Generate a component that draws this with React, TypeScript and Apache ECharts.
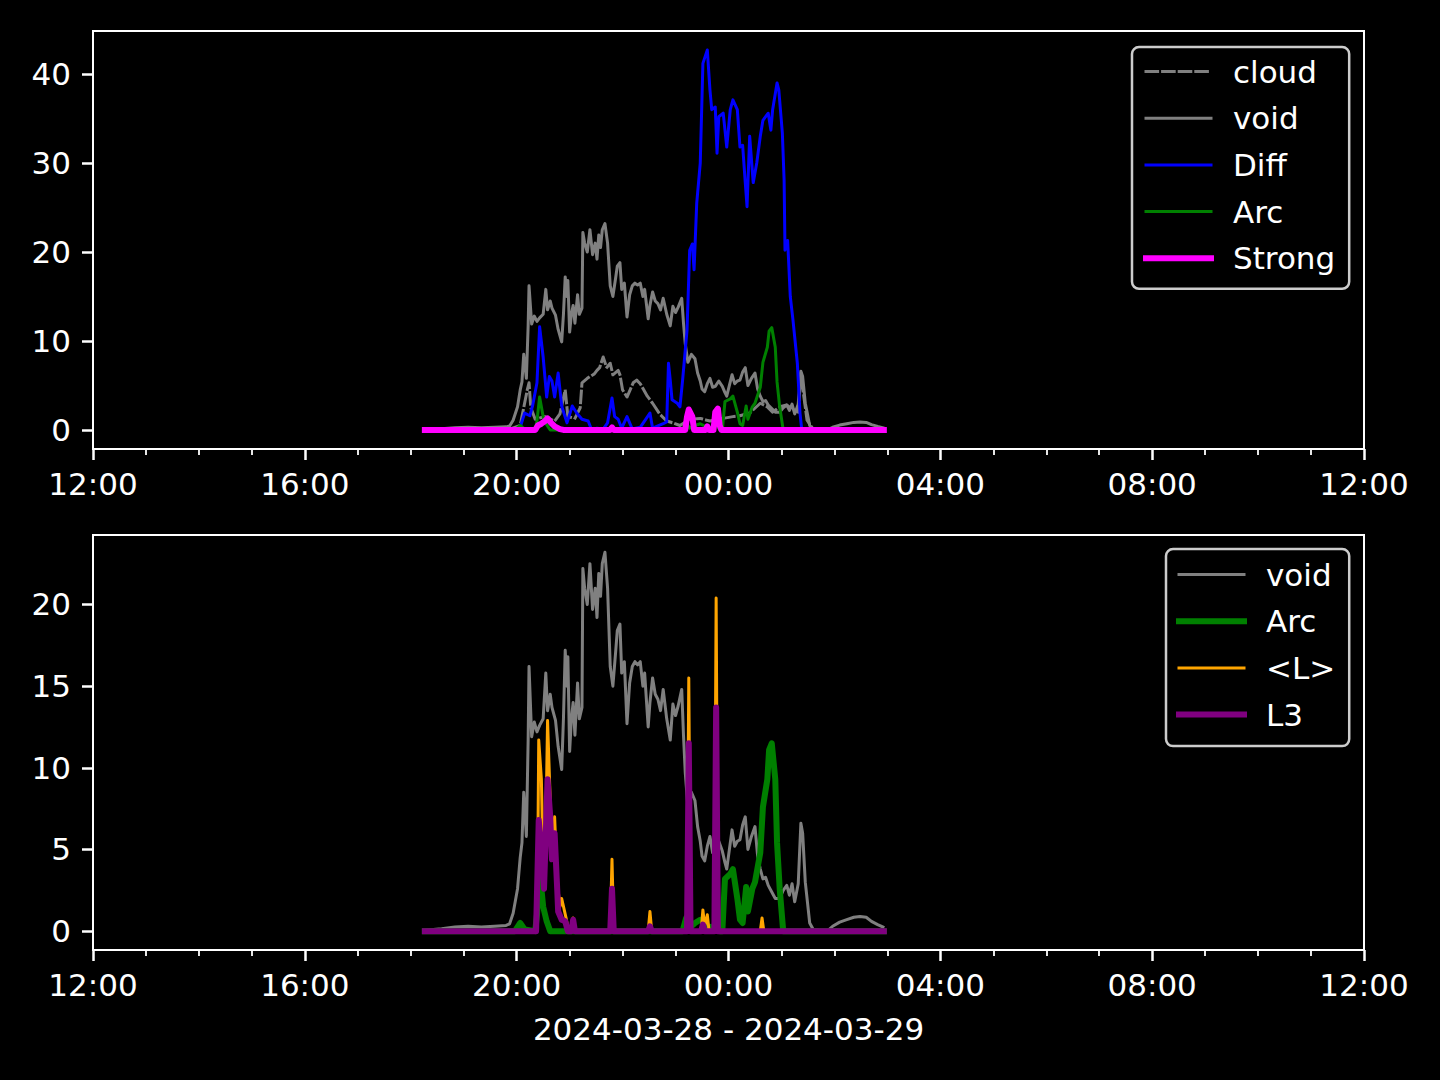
import React, { useEffect, useRef } from 'react';
import * as echarts from 'echarts';

// x values: minutes after 2024-03-28 12:00
const xTicks = [0, 240, 480, 720, 960, 1200, 1440];
const xTickLabels = ['12:00', '16:00', '20:00', '00:00', '04:00', '08:00', '12:00'];
const topYTicks = [0, 10, 20, 30, 40];
const bottomYTicks = [0, 5, 10, 15, 20];
const xLabel = '2024-03-28 - 2024-03-29';
const topLegendNames = ['cloud', 'void', 'Diff', 'Arc', 'Strong'];
const bottomLegendNames = ['void', 'Arc', '<L>', 'L3'];

const cloudData = [
  [376, 0], [472, 0.1], [484, 0.5], [492, 4.5], [494, 5.3], [496, 2.5], [501, 1.2], [512, 1.5],
  [523, 1], [529, 1.8], [535, 4.5], [538, 1.5], [546, 1.3], [552, 2.5], [554, 5.3], [560, 5.8],
  [563, 6], [568, 6.3], [571, 6.7], [574, 7], [578, 8.2], [582, 7], [586, 7.5], [589, 6.2],
  [595, 6.7], [597, 6.2], [600, 4.5], [605, 3.7], [612, 5.3], [616, 5.6], [620, 5.2], [628, 3.8],
  [634, 3], [642, 1.8], [650, 1.0], [657, 0.8], [665, 0.5], [676, 1.2], [688, 1.3], [699, 1.0],
  [714, 1.3], [725, 1.5], [733, 1.6], [744, 1.9], [756, 3], [764, 2.6], [770, 2], [778, 2.6],
  [786, 2.8], [793, 2.3], [799, 2], [802, 6.4], [805, 4], [809, 1.1], [815, 0.2], [824, 0], [896, 0],
];

const voidData = [
  [376, 0.05], [395, 0.15], [410, 0.25], [425, 0.3], [440, 0.25], [455, 0.3], [468, 0.35], [472, 0.45],
  [476, 1.1], [481, 2.6], [484, 4.5], [486, 5.4], [488, 8.5], [491, 5.8], [493, 11.7], [494, 16.2],
  [497, 11.9], [500, 12.8], [503, 12.2], [506, 12.6], [510, 13], [513, 15.8], [515, 13.5], [518, 14.5],
  [520, 13.7], [524, 12.9], [527, 11.3], [531, 9.9], [533, 13], [535, 17.2], [537, 15], [538, 16.8],
  [540, 11], [542, 13], [544, 14], [546, 12], [549, 15.2], [551, 13], [554, 13.7], [555, 22.2],
  [557, 21], [560, 20], [563, 22.5], [566, 19.7], [569, 21], [571, 19.2], [573, 21.9], [575, 20.5],
  [577, 22.5], [580, 23.2], [583, 21], [586, 16.2], [589, 15], [592, 17], [594, 18.4], [597, 18.8],
  [599, 15.8], [602, 16.5], [605, 12.7], [608, 15.2], [611, 16.2], [614, 16.5], [617, 16.3], [620, 16.5],
  [623, 15], [625, 15.8], [629, 12.5], [631, 14], [634, 15.5], [637, 14.5], [640, 14.2], [643, 13.5],
  [646, 14.8], [650, 13], [654, 11.7], [657, 13.9], [660, 13.2], [663, 13.8], [667, 14.8], [669, 12],
  [671, 9.7], [674, 7.6], [678, 8.5], [682, 8], [685, 6.4], [688, 5.5], [690, 4.6], [693, 4.3],
  [696, 5.2], [699, 5.8], [702, 4.8], [705, 4.9], [709, 5.5], [713, 4.9], [716, 4.2], [718, 3.8],
  [721, 5], [724, 6.2], [727, 5.2], [730, 5.5], [733, 5.6], [736, 6.5], [739, 7], [742, 5],
  [746, 5.8], [750, 6.4], [753, 4.6], [756, 3.8], [759, 3.2], [762, 3.3], [765, 2.8], [769, 2.4],
  [773, 2], [778, 2], [782, 2.5], [786, 2.8], [789, 2.2], [792, 2.9], [795, 1.8], [799, 2.9],
  [802, 6.6], [804, 6], [807, 3], [809, 2], [812, 0.5], [816, 0.1], [832, 0], [838, 0.3],
  [846, 0.55], [854, 0.7], [862, 0.85], [869, 0.9], [876, 0.85], [882, 0.6], [889, 0.4], [895, 0.25],
];

const diffData = [
  [376, 0], [481, 0], [484, 0.3], [489, 1.9], [495, 1.6], [498, 2.7], [503, 5.3], [506, 11.6],
  [510, 8.2], [514, 3.7], [517, 6], [520, 5.5], [523, 3.7], [527, 6.4], [531, 2.7], [537, 0.8],
  [543, 2.7], [548, 1.9], [554, 1.2], [561, 1.0], [565, 0], [571, 0.2], [578, 0.1], [583, 0.8],
  [588, 3.6], [591, 1.5], [595, 1.2], [599, 0.2], [605, 1.5], [611, 0.1], [620, 0.3], [631, 1.9],
  [634, 0.2], [646, 0.7], [650, 0.9], [652, 7.5], [654, 5.6], [656, 3.4], [662, 3.0], [665, 2.6],
  [668, 5.6], [673, 11.2], [676, 20.2], [679, 20.9], [681, 18], [684, 25.5], [688, 30], [691, 41.2],
  [696, 42.7], [699, 38.2], [701, 36], [705, 36.3], [707, 31.1], [709, 35.2], [714, 35.6], [718, 31.8],
  [722, 36], [725, 37.1], [730, 36], [733, 31.8], [736, 32], [739, 27.8], [741, 25.1], [744, 33],
  [748, 27.8], [752, 30], [756, 33], [759, 34.8], [765, 35.6], [768, 33.7], [770, 36], [775, 39],
  [777, 38.2], [781, 33.4], [783, 28.1], [784, 20.2], [787, 21.3], [790, 15], [793, 12.4], [798, 7.5],
  [801, 1.9], [803, 0], [896, 0],
];

const arcData = [
  [376, 0], [478, 0], [484, 0.5], [489, 0.1], [501, 0], [503, 1], [506, 3.7], [510, 1.5],
  [514, 0.6], [518, 0], [668, 0], [672, 0.8], [676, 0.2], [682, 0.5], [688, 0.7], [696, 0.3],
  [703, 0.2], [706, 0.7], [710, 0], [713, 0], [716, 3.2], [722, 3.5], [725, 3.8], [730, 2],
  [733, 0.7], [736, 0.5], [740, 2.7], [742, 1.2], [747, 2.6], [750, 3], [756, 4.8], [759, 7.6],
  [764, 9.3], [766, 11.1], [769, 11.5], [773, 9.3], [775, 5.4], [778, 2.6], [782, 0], [896, 0],
];

const strongData = [
  [376, 0], [501, 0], [504, 0.5], [508, 0.7], [512, 1.0], [515, 1.3], [519, 0.8], [523, 0.4],
  [529, 0.1], [533, 0], [586, 0], [588, 0.3], [590, 0], [671, 0], [673, 1.5], [675, 2.3],
  [679, 1.5], [681, 0], [694, 0], [696, 0.4], [698, 0], [703, 0], [705, 2.0], [708, 2.4],
  [710, 0.5], [712, 0], [896, 0],
];

const lMeanData = [
  [376, 0], [502, 0], [504, 5], [505, 11.7], [508, 9.3], [510, 4], [512, 2.6], [515, 12.9],
  [518, 8], [520, 5], [523, 7], [526, 3], [529, 1.5], [531, 2], [536, 0.8], [538, 0.2],
  [542, 0], [544, 0.8], [546, 0], [586, 0], [588, 4.4], [590, 0], [629, 0], [631, 1.2],
  [633, 0], [673, 0], [675, 15.5], [677, 0], [689, 0], [691, 1.3], [693, 0.3], [696, 1.0],
  [698, 0], [704, 0], [706, 20.4], [708, 0], [756, 0], [758, 0.8], [760, 0], [896, 0],
];

const l3Data = [
  [376, 0], [502, 0], [505, 6.8], [508, 5], [509, 4.4], [511, 2.6], [515, 9.3], [518, 7],
  [520, 4.4], [523, 6], [526, 2.5], [527, 1.2], [531, 0.7], [535, 0.6], [538, 0], [542, 0],
  [544, 0.7], [546, 0], [586, 0], [588, 2.6], [590, 0], [629, 0], [631, 0.3], [633, 0],
  [673, 0], [675, 11.5], [677, 0], [689, 0], [691, 0.4], [693, 0], [704, 0], [706, 13.7],
  [708, 0], [896, 0],
];

const FONT = 'DejaVu Sans';
const WHITE = '#ffffff';

// line widths per legend entry (panel-specific)
const topWidths: Record<string, number> = { cloud: 3, void: 3, Diff: 3, Arc: 3, Strong: 6 };
const bottomWidths: Record<string, number> = { void: 3, Arc: 6, '<L>': 3, L3: 6 };

function xAxis(gridIndex: number, withName: boolean) {
  return {
    type: 'value',
    gridIndex,
    min: 0,
    max: 1440,
    interval: 240,
    name: withName ? xLabel : '',
    nameLocation: 'middle',
    nameGap: 63,
    nameTextStyle: { color: WHITE, fontSize: 31, fontFamily: FONT },
    axisLine: { show: true, onZero: false, lineStyle: { color: WHITE, width: 2 } },
    axisTick: { show: true, length: 11, lineStyle: { color: WHITE, width: 2.5 } },
    minorTick: { show: true, splitNumber: 4, length: 6, lineStyle: { color: WHITE, width: 1.8 } },
    axisLabel: {
      color: WHITE,
      fontSize: 31,
      fontFamily: FONT,
      margin: 19,
      formatter: (v: number) => {
        const i = xTicks.indexOf(v);
        return i >= 0 ? xTickLabels[i] : '';
      },
    },
    splitLine: { show: false },
    minorSplitLine: { show: false },
  };
}

function yAxis(gridIndex: number, min: number, max: number, ticks: number[]) {
  return {
    type: 'value',
    gridIndex,
    min,
    max,
    axisLine: { show: true, onZero: false, lineStyle: { color: WHITE, width: 2 } },
    axisTick: { show: true, length: 11, customValues: ticks, lineStyle: { color: WHITE, width: 2.5 } },
    axisLabel: { color: WHITE, fontSize: 31, fontFamily: FONT, margin: 22, customValues: ticks },
    splitLine: { show: false },
  };
}

function line(name: string, data: number[][], color: string, width: number, idx: number, dashed = false) {
  return {
    type: 'line',
    name,
    data,
    xAxisIndex: idx,
    yAxisIndex: idx,
    symbol: 'none',
    showSymbol: false,
    silent: true,
    lineStyle: { color, width, type: dashed ? [11.6, 5] : 'solid', join: 'round', cap: 'square' },
    itemStyle: { color },
  };
}

function legend(names: string[], widths: Record<string, number>, left: number, top: number, padding: number[]) {
  return {
    show: true,
    orient: 'vertical',
    left,
    top,
    data: names.map((n) => ({ name: n, lineStyle: { width: widths[n] } })),
    selectedMode: false,
    itemWidth: 65,
    itemHeight: 14,
    itemGap: 15.7,
    padding,
    backgroundColor: 'rgba(0,0,0,0.8)',
    borderColor: '#cccccc',
    borderWidth: 2.5,
    borderRadius: 7,
    itemStyle: { opacity: 0 },
    textStyle: { color: WHITE, fontSize: 31, fontFamily: FONT, padding: [0, 0, 0, 17] },
  };
}

const option = {
  animation: false,
  backgroundColor: '#000000',
  textStyle: { fontFamily: FONT },
  grid: [
    { left: 93, top: 31, width: 1271, height: 418, show: true, borderColor: WHITE, borderWidth: 2, backgroundColor: 'transparent', outerBoundsMode: 'none' },
    { left: 93, top: 535, width: 1271, height: 415, show: true, borderColor: WHITE, borderWidth: 2, backgroundColor: 'transparent', outerBoundsMode: 'none' },
  ],
  xAxis: [xAxis(0, false), xAxis(1, true)],
  yAxis: [yAxis(0, -2.14, 44.84, topYTicks), yAxis(1, -1.155, 24.255, bottomYTicks)],
  legend: [
    legend(topLegendNames, topWidths, 1132, 47, [9, 14, 15, 11]),
    legend(bottomLegendNames, bottomWidths, 1166, 549, [10, 14, 16, 10]),
  ],
  series: [
    line('cloud', cloudData, '#808080', 3, 0, true),
    line('void', voidData, '#808080', 3, 0),
    line('Diff', diffData, '#0000ff', 3, 0),
    line('Arc', arcData, '#008000', 3, 0),
    line('Strong', strongData, '#ff00ff', 6, 0),
    line('void', voidData, '#808080', 3, 1),
    line('Arc', arcData, '#008000', 6, 1),
    line('<L>', lMeanData, '#ffa500', 3, 1),
    line('L3', l3Data, '#800080', 6, 1),
  ],
};

export default function App() {
  const ref = useRef<HTMLDivElement>(null);
  useEffect(() => {
    const chart = echarts.init(ref.current as HTMLDivElement, null, { renderer: 'svg' });
    chart.setOption(option as any);
    return () => chart.dispose();
  }, []);
  return (
    <div
      ref={ref}
      style={{ position: 'absolute', left: 0, top: 0, width: 1440, height: 1080, background: '#000' }}
    />
  );
}
